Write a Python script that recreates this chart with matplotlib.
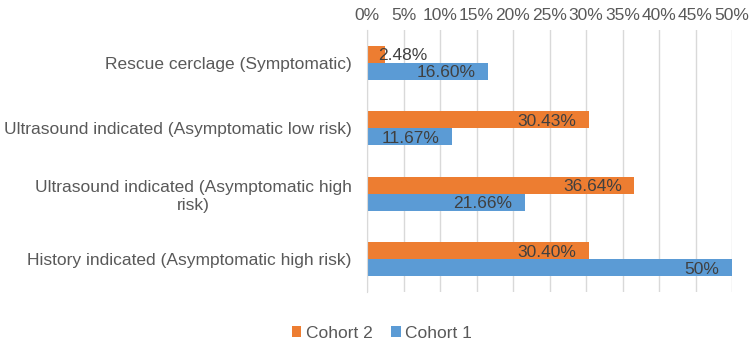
import matplotlib
matplotlib.use("Agg")
import matplotlib.pyplot as plt
import numpy as np

categories = ["Rescue cerclage (Symptomatic)",
              "Ultrasound indicated (Asymptomatic low risk)",
              "Ultrasound indicated (Asymptomatic high\nrisk)",
              "History indicated (Asymptomatic high risk)"]
cohort2 = [2.48, 30.43, 36.64, 30.40]
cohort1 = [16.60, 11.67, 21.66, 50.0]
labels2 = ["2.48%", "30.43%", "36.64%", "30.40%"]
labels1 = ["16.60%", "11.67%", "21.66%", "50%"]
ticks = list(range(0, 55, 5))

plt.rcParams['font.family'] = ['Liberation Sans', 'DejaVu Sans']
text_color = "#595959"
c2 = "#ED7D31"
c1 = "#5B9BD5"
fs = 12.5

fig = plt.figure(figsize=(7.5, 3.45), dpi=100)
ax = fig.add_axes([367/750, 1-292/345, (732-367)/750, (292-30)/345])

y = np.arange(len(categories))
h = 0.26
b2 = ax.barh(y - h/2, cohort2, height=h, color=c2, label="Cohort 2", zorder=2)
b1 = ax.barh(y + h/2, cohort1, height=h, color=c1, label="Cohort 1", zorder=2)

def put_labels(bars, labs):
    for rect, lab in zip(bars, labs):
        w = rect.get_width()
        yc = rect.get_y() + rect.get_height()/2
        if w > 8:
            ax.annotate(lab, (w, yc), xytext=(-9, -1), textcoords="offset points",
                        ha="right", va="center", fontsize=fs, color="#404040", zorder=3)
        else:
            ax.annotate(lab, (0, yc), xytext=(8, -1), textcoords="offset points",
                        ha="left", va="center", fontsize=fs, color="#404040", zorder=3)

put_labels(b2, labels2)
put_labels(b1, labels1)

ax.set_xlim(0, 50)
ax.set_ylim(len(categories) - 0.5, -0.5)
ax.set_xticks(ticks)
ax.set_xticklabels([f"{t}%" for t in ticks])
ax.xaxis.tick_top()
ax.tick_params(axis="x", length=0, labelsize=fs, labelcolor=text_color, pad=5)
ax.set_yticks(y)
ax.set_yticklabels(categories, multialignment="center")
ax.tick_params(axis="y", length=0, labelsize=fs, labelcolor=text_color, pad=11)
ax.grid(axis="x", color="#d9d9d9", linewidth=1, zorder=0)
for s in ["top", "right", "bottom"]:
    ax.spines[s].set_visible(False)
ax.spines["left"].set_color("#d9d9d9")

fig.legend([b2, b1], ["Cohort 2", "Cohort 1"], loc="center", bbox_to_anchor=(382/750, 1-333/345),
           ncol=2, frameon=False, fontsize=fs, handlelength=0.55, handleheight=0.55,
           handletextpad=0.25, columnspacing=1.1, labelcolor=text_color)

fig.savefig("out.png", dpi=100)
